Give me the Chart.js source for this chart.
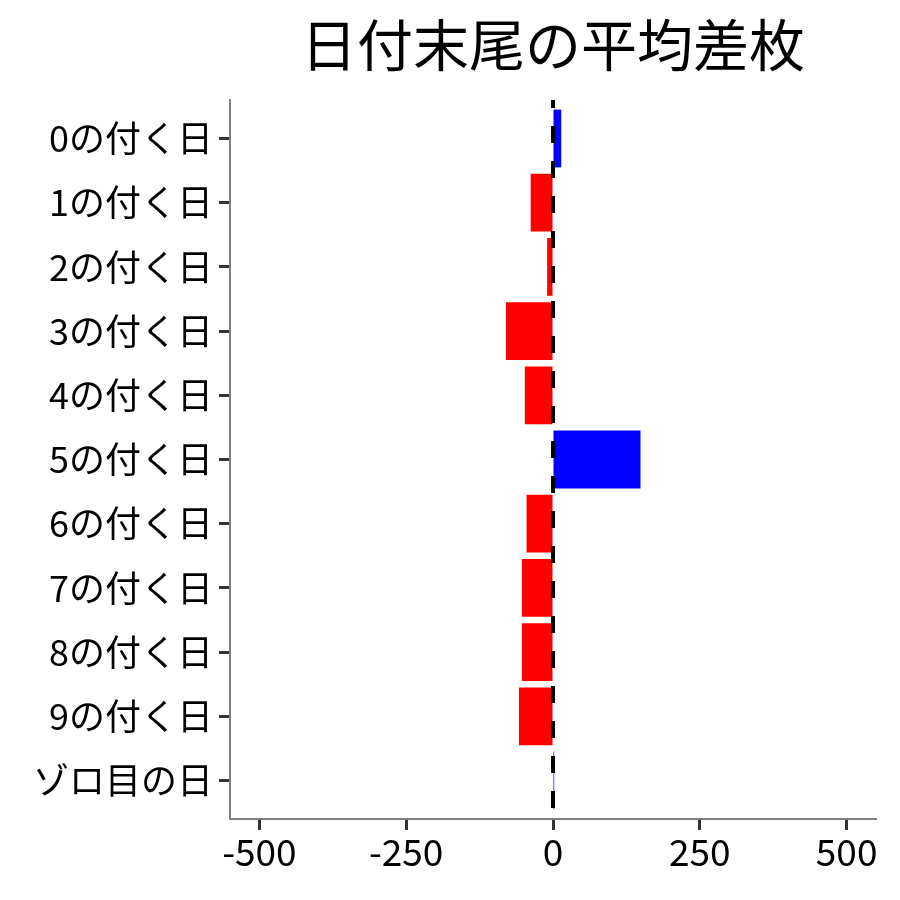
<!DOCTYPE html>
<html>
<head>
<meta charset="utf-8">
<script src="https://cdn.jsdelivr.net/npm/chart.js@4"></script>
<style>
  html, body { margin: 0; padding: 0; background: #fff; }
  #wrap { width: 900px; height: 900px; }
</style>
</head>
<body>
<div id="wrap"><canvas id="diffChart" width="900" height="900"></canvas></div>
<script>
// 日付末尾ごとの平均差枚
const titleText = '日付末尾の平均差枚';
const categories = ['0の付く日', '1の付く日', '2の付く日', '3の付く日', '4の付く日',
    '5の付く日', '6の付く日', '7の付く日', '8の付く日', '9の付く日', 'ゾロ目の日'];
const avgDiff = [14, -38, -10, -80, -48, 149, -45, -53, -53, -58, 2];
const xTicks = [-500, -250, 0, 250, 500];

const font = '"Noto Sans CJK JP", "Noto Sans", sans-serif';

// タイトルはプロット領域の中央に
const titlePlugin = {
    id: 'panelTitle',
    afterDraw(chart) {
        const { ctx, chartArea } = chart;
        ctx.save();
        ctx.fillStyle = '#000';
        ctx.font = '56px ' + font;
        ctx.textAlign = 'center';
        ctx.textBaseline = 'middle';
        ctx.fillText(titleText, (chartArea.left + chartArea.right) / 2, 45);
        ctx.restore();
    }
};

// 0 の位置に破線
const zeroLine = {
    id: 'zeroLine',
    afterDatasetsDraw(chart) {
        const { ctx, chartArea, scales } = chart;
        const x = scales.x.getPixelForValue(0);
        ctx.save();
        ctx.strokeStyle = '#000';
        ctx.lineWidth = 4;
        ctx.setLineDash([17, 18]);
        ctx.lineDashOffset = 9;
        ctx.beginPath();
        ctx.moveTo(x, chartArea.top);
        ctx.lineTo(x, chartArea.bottom);
        ctx.stroke();
        ctx.restore();
    }
};

new Chart(document.getElementById('diffChart'), {
    type: 'bar',
    data: {
        datasets: [{
            data: avgDiff.map((v, i) => ({ x: v, y: i })),
            backgroundColor: avgDiff.map(v => v >= 0 ? '#0000ff' : '#ff0000'),
            borderWidth: 0,
            barPercentage: 0.9,
            categoryPercentage: 1
        }]
    },
    options: {
        indexAxis: 'y',
        responsive: false,
        animation: false,
        devicePixelRatio: 1,
        layout: { padding: { top: 100, right: 24, left: 0, bottom: 0 } },
        plugins: {
            legend: { display: false },
            tooltip: { enabled: false },
            title: { display: false }
        },
        scales: {
            x: {
                type: 'linear',
                min: -550,
                max: 550,
                afterBuildTicks: s => { s.ticks = xTicks.map(v => ({ value: v })); },
                afterFit: s => { s.height = 81; },
                grid: { drawOnChartArea: false, tickLength: 11, tickWidth: 3, tickColor: '#333' },
                border: { color: '#808080', width: 2 },
                ticks: { color: '#000', font: { family: font, size: 37 }, padding: 0, maxRotation: 0 }
            },
            y: {
                type: 'linear',
                reverse: true,
                offset: false,
                min: -0.6,
                max: 10.6,
                afterBuildTicks: s => { s.ticks = categories.map((c, i) => ({ value: i })); },
                afterFit: s => { s.width = 230; },
                grid: { offset: false, drawOnChartArea: false, tickLength: 11, tickWidth: 3, tickColor: '#333' },
                border: { color: '#808080', width: 2 },
                ticks: {
                    color: '#000',
                    font: { family: font, size: 36 },
                    padding: 6,
                    callback: v => categories[v]
                }
            }
        }
    },
    plugins: [titlePlugin, zeroLine]
});
</script>
</body>
</html>
